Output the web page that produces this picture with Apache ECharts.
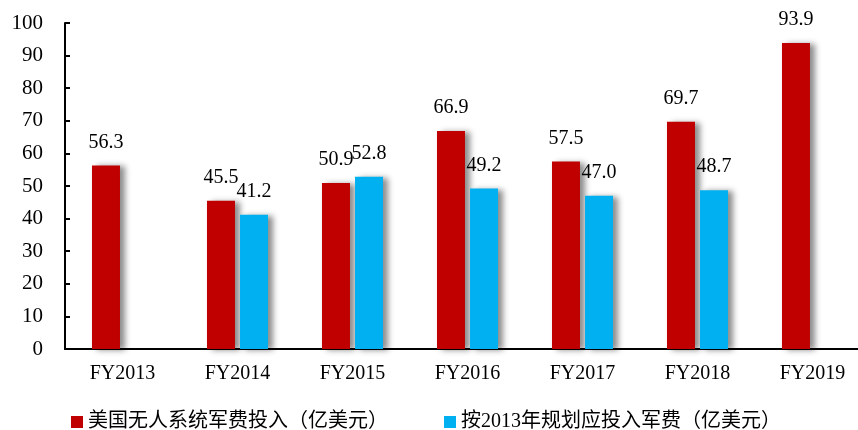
<!DOCTYPE html>
<html>
<head>
<meta charset="utf-8">
<script src="https://cdn.jsdelivr.net/npm/echarts@6/dist/echarts.min.js"></script>
<style>
  html, body { margin: 0; padding: 0; background: #fff; overflow: hidden; }
  /* a bit wider than the window: the plot area runs past the right edge */
  #chart { width: 870px; height: 430px; }
</style>
</head>
<body>
<div id="chart"></div>
<script>
// ----------------------
// DATA
// ----------------------
const years = ["FY2013", "FY2014", "FY2015", "FY2016", "FY2017", "FY2018", "FY2019"];
const actualSpend = [56.3, 45.5, 50.9, 66.9, 57.5, 69.7, 93.9];
const plannedSpend = [null, 41.2, 52.8, 49.2, 47.0, 48.7, null];
const seriesNames = ["美国无人系统军费投入（亿美元）", "按2013年规划应投入军费（亿美元）"];

const FONT = '"Liberation Serif", "Times New Roman", "Noto Sans CJK SC", serif';

const chart = echarts.init(document.getElementById("chart"));

function barSeries(name, data, color) {
  return {
    name: name,
    type: "bar",
    data: data,
    barWidth: 28,
    barGap: "18%",
    itemStyle: {
      color: color,
      shadowColor: "rgba(0,0,0,0.45)",
      shadowBlur: 6,
      shadowOffsetX: 5,
      shadowOffsetY: 1,
    },
    label: {
      show: true,
      position: "top",
      distance: 13,
      fontFamily: FONT,
      fontSize: 20,
      color: "#000",
      formatter: (p) => p.value.toFixed(1),
    },
  };
}

chart.setOption({
  animation: false,
  grid: { left: 65, right: 0, top: 23, bottom: 81 },
  legend: {
    left: 66,
    top: 407,
    itemWidth: 12,
    itemHeight: 12,
    itemGap: 56,
    icon: "rect",
    textStyle: { fontFamily: FONT, fontSize: 20, color: "#000" },
    data: seriesNames,
  },
  xAxis: {
    type: "category",
    data: years,
    axisLine: { lineStyle: { color: "#000", width: 2 } },
    axisTick: { show: false },
    axisLabel: { fontFamily: FONT, fontSize: 20, color: "#000", margin: 15 },
  },
  yAxis: {
    type: "value",
    min: 0,
    max: 100,
    interval: 10,
    splitLine: { show: false },
    axisLine: { show: true, lineStyle: { color: "#000", width: 2 } },
    axisTick: { show: true, inside: true, length: 5, lineStyle: { color: "#000", width: 2 } },
    axisLabel: { fontFamily: FONT, fontSize: 21, color: "#000", margin: 22 },
  },
  series: [
    barSeries(seriesNames[0], actualSpend, "#C00000"),
    barSeries(seriesNames[1], plannedSpend, "#00B0F0"),
  ],
});
</script>
</body>
</html>
